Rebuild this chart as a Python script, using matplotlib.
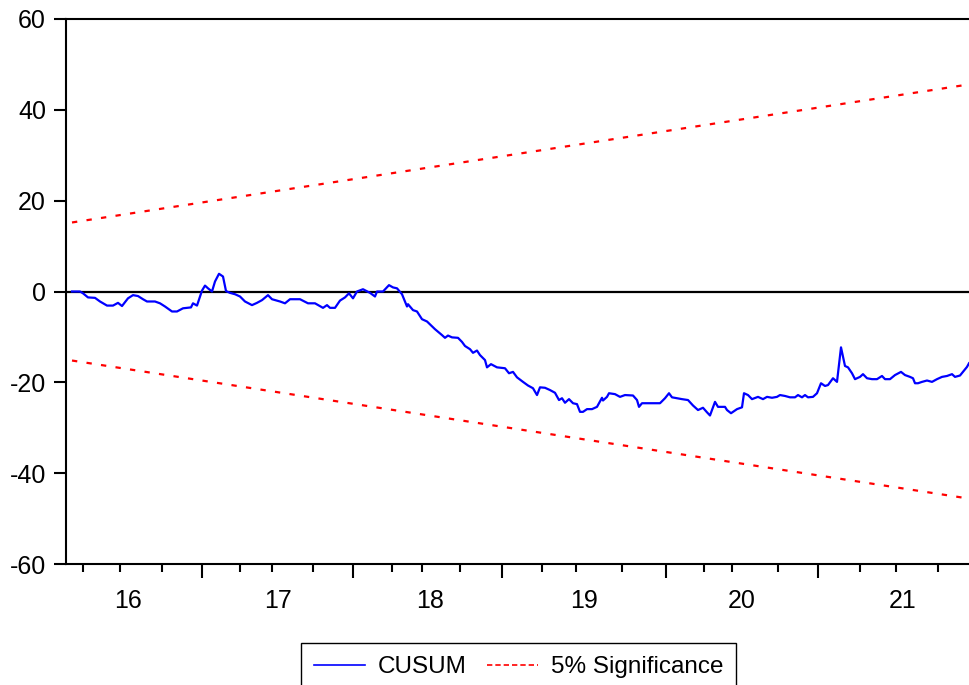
import matplotlib
matplotlib.use("Agg")
import matplotlib.pyplot as plt
from matplotlib.lines import Line2D

plt.rcParams["font.family"] = ["Liberation Sans", "DejaVu Sans"]
plt.rcParams["axes.unicode_minus"] = False

# recursive residual CUSUM, observation number vs statistic
obs = [6, 14, 17, 22, 29, 34, 41, 47, 52, 56, 62, 67, 72, 77, 81, 89, 94, 99,
       106, 111, 117, 125, 127, 131, 136, 139, 142, 146, 149, 153, 157, 160,
       164, 169, 174, 179, 186, 191, 196, 202, 206, 214, 219, 224, 234, 242,
       249, 257, 261, 264, 269, 274, 279, 283, 287, 291, 297, 304, 309, 311,
       317, 323, 327, 331, 336, 341, 342, 347, 351, 356, 361, 369, 376, 379,
       382, 386, 392, 396, 399, 404, 407, 411, 414, 419, 421, 425, 431, 439,
       443, 447, 451, 457, 462, 467, 471, 474, 479, 484, 489, 493, 496, 499,
       503, 507, 511, 514, 517, 521, 526, 531, 536, 537, 541, 543, 549, 554,
       559, 567, 571, 573, 576, 584, 594, 599, 603, 606, 616, 622, 627, 632,
       637, 641, 644, 649, 652, 659, 661, 665, 671, 676, 678, 682, 686, 692,
       697, 701, 706, 711, 714, 719, 724, 729, 732, 736, 739, 742, 747, 751,
       755, 759, 762, 767, 771, 775, 779, 782, 786, 789, 794, 797, 801, 806,
       811, 816, 819, 824, 829, 835, 839, 844, 847, 849, 852, 856, 861, 866,
       871, 876, 881, 886, 889, 894, 897, 901, 903]
cusum = [0.0, 0.0, -0.4, -1.3, -1.4, -2.2, -3.1, -3.1, -2.5, -3.2, -1.5, -0.8,
         -1.0, -1.7, -2.2, -2.2, -2.6, -3.3, -4.4, -4.4, -3.7, -3.5, -2.6,
         -3.1, 0.2, 1.3, 0.7, 0.0, 2.2, 3.9, 3.3, 0.1, -0.3, -0.6, -1.1, -2.2,
         -3.0, -2.5, -1.9, -0.8, -1.7, -2.2, -2.6, -1.7, -1.7, -2.6, -2.6,
         -3.6, -3.0, -3.6, -3.6, -2.0, -1.3, -0.4, -1.5, 0.0, 0.5, -0.3, -1.1,
         0.0, 0.0, 1.4, 0.9, 0.7, -0.6, -3.3, -2.8, -4.1, -4.4, -6.1, -6.6,
         -8.3, -9.6, -10.2, -9.7, -10.1, -10.2, -11.1, -12.0, -12.7, -13.5,
         -13.0, -14.0, -15.1, -16.7, -16.0, -16.7, -16.9, -18.0, -17.7, -18.9,
         -19.9, -20.7, -21.3, -22.8, -21.1, -21.2, -21.7, -22.3, -23.9, -23.5,
         -24.5, -23.7, -24.6, -24.8, -26.5, -26.5, -25.9, -25.9, -25.4, -23.4,
         -24.0, -23.2, -22.4, -22.6, -23.2, -22.8, -22.9, -23.9, -25.4, -24.6,
         -24.6, -24.6, -23.5, -22.4, -23.3, -23.7, -23.9, -25.1, -26.1, -25.6,
         -26.6, -27.3, -24.3, -25.4, -25.4, -26.1, -26.8, -25.9, -25.5, -22.4,
         -22.8, -23.7, -23.2, -23.7, -23.2, -23.4, -23.2, -22.8, -23.0, -23.3,
         -23.3, -22.8, -23.3, -22.8, -23.3, -23.2, -22.4, -20.2, -20.8, -20.6,
         -19.1, -19.9, -12.3, -16.4, -16.7, -18.0, -19.3, -18.8, -18.2, -19.1,
         -19.3, -19.3, -18.6, -19.3, -19.3, -18.4, -17.7, -18.4, -18.8, -19.1,
         -20.2, -20.2, -19.9, -19.6, -19.9, -19.3, -18.8, -18.6, -18.2, -18.8,
         -18.5, -17.7, -16.6, -15.8]

# 5% bounds: straight lines from first to last recursive observation
band_obs = [6, 903]
band_upper = [15.2, 45.6]
band_lower = [-15.2, -45.6]

# x axis: year boundaries, quarter boundaries and year labels (in observations)
year_ticks = [136, 287, 436, 600, 752]
quarter_ticks = [17, 54, 96, 174, 206, 247, 326, 356, 394, 476, 510, 556,
                 638, 666, 712, 794, 830, 872]
year_label_pos = [61.5, 212, 364, 518, 676, 837]
year_labels = ["16", "17", "18", "19", "20", "21"]
n_obs = 903

W, H = 969, 685
fig = plt.figure(figsize=(W / 100, H / 100), dpi=100)
ax = fig.add_axes([66 / W, 121 / H, (W - 66) / W, 545 / H])

ax.axhline(0, color="black", lw=1.6, zorder=1)
ax.plot(obs, cusum, color="#0000ff", lw=1.6, zorder=3)
band_ls = (0, (2.4, 4.2))
ax.plot(band_obs, band_upper, color="#ff0000", lw=1.6, ls=band_ls, zorder=2)
ax.plot(band_obs, band_lower, color="#ff0000", lw=1.6, ls=band_ls, zorder=2)

ax.set_xlim(0, n_obs)
ax.set_ylim(-60, 60)
ax.set_yticks([-60, -40, -20, 0, 20, 40, 60])
ax.set_xticks(year_ticks)
ax.set_xticks(quarter_ticks, minor=True)
ax.set_xticklabels([])
ax.tick_params(axis="x", which="major", direction="out", length=10, width=1.5)
ax.tick_params(axis="x", which="minor", direction="out", length=5.5, width=1.5)
ax.tick_params(axis="y", direction="out", length=8.6, width=1.5, pad=5.8,
               labelsize=18)

for pos, lab in zip(year_label_pos, year_labels):
    ax.annotate(lab, xy=(pos, 0), xycoords=("data", "axes fraction"),
                xytext=(0, -26.6), textcoords="offset points",
                ha="center", va="center", fontsize=18)

for side in ["left", "top", "bottom"]:
    ax.spines[side].set_linewidth(1.5)
ax.spines["right"].set_visible(False)

# legend keys drawn with thinner, denser strokes than the plotted lines
handles = [Line2D([], [], color="#0000ff", lw=1.2),
           Line2D([], [], color="#ff0000", lw=1.2, ls=(0, (3.2, 1.8)))]
leg = fig.legend(handles, ["CUSUM", "5% Significance"], ncol=2,
                 loc="upper center", bbox_to_anchor=(518.5 / W, 1 - 643 / H),
                 fontsize=17.5, frameon=True, fancybox=False, framealpha=1,
                 edgecolor="black", handlelength=2.1, handletextpad=0.53,
                 columnspacing=0.82, borderpad=0.55, borderaxespad=0)
leg.get_frame().set_linewidth(1.0)

fig.savefig("out.png", dpi=100)
